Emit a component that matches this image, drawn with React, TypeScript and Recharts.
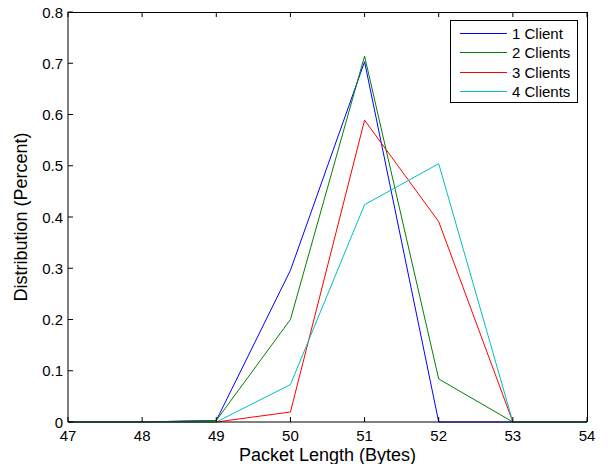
import React from "react";
import { LineChart, Line, XAxis, YAxis, Legend } from "recharts";

// Packet length distribution per number of clients
const packetLengths = [47, 48, 49, 50, 51, 52, 53, 54];
const oneClient = [0, 0, 0.003, 0.296, 0.703, 0, 0, 0];
const twoClients = [0, 0, 0.003, 0.2, 0.714, 0.084, 0, 0];
const threeClients = [0, 0, 0, 0.0195, 0.589, 0.391, 0, 0];
const fourClients = [0, 0, 0, 0.073, 0.424, 0.504, 0, 0];

const xTicks = [47, 48, 49, 50, 51, 52, 53, 54];
const yTicks = [0, 0.1, 0.2, 0.3, 0.4, 0.5, 0.6, 0.7, 0.8];
const xMin = 47;
const xMax = 54;
const yMin = 0;
const yMax = 0.8;

const seriesNames = ["1 Client", "2 Clients", "3 Clients", "4 Clients"];
const seriesColors = ["#0000ff", "#008000", "#ff0000", "#00bfbf"];

const data = packetLengths.map((x, i) => ({
  x,
  s1: oneClient[i],
  s2: twoClients[i],
  s3: threeClients[i],
  s4: fourClients[i],
}));

// chart layout
const CHART_W = 608;
const CHART_H = 464;
const MARGIN = { top: 11, right: 20, left: 0, bottom: 0 };
const X_AXIS_H = 42;
const TOP_AXIS_H = 1;
const Y_AXIS_W = 68;
const RIGHT_AXIS_W = 1;
const PLOT_LEFT = MARGIN.left + Y_AXIS_W;
const PLOT_TOP = MARGIN.top + TOP_AXIS_H;
const PLOT_W = CHART_W - MARGIN.left - MARGIN.right - Y_AXIS_W - RIGHT_AXIS_W;
const PLOT_H = CHART_H - MARGIN.top - MARGIN.bottom - X_AXIS_H - TOP_AXIS_H;

const FONT = "'Liberation Sans', Arial, Helvetica, sans-serif";
const TICK_LEN = 5;

const BottomTick = (props: any) => {
  const { x, y, payload } = props;
  return (
    <g>
      <line x1={x} y1={y} x2={x} y2={y - TICK_LEN} stroke="#000" strokeWidth={1} />
      <text x={x} y={y + 19} textAnchor="middle" fontSize={15} fontFamily={FONT} fill="#000">
        {payload.value}
      </text>
    </g>
  );
};

const TopTick = (props: any) => {
  const { x, y } = props;
  return <line x1={x} y1={y} x2={x} y2={y + TICK_LEN} stroke="#000" strokeWidth={1} />;
};

const LeftTick = (props: any) => {
  const { x, y, payload } = props;
  return (
    <g>
      <line x1={x} y1={y} x2={x + TICK_LEN} y2={y} stroke="#000" strokeWidth={1} />
      <text x={x - 5} y={y + 5.5} textAnchor="end" fontSize={15} fontFamily={FONT} fill="#000">
        {payload.value}
      </text>
    </g>
  );
};

const RightTick = (props: any) => {
  const { x, y } = props;
  return <line x1={x} y1={y} x2={x - TICK_LEN} y2={y} stroke="#000" strokeWidth={1} />;
};

const rowTops = [3, 22, 42, 61];

const LegendBox = (props: any) => {
  const { payload } = props;
  const items = (payload || []).filter((e: any) => seriesNames.indexOf(e.value) >= 0);
  return (
    <div
      style={{
        width: 126,
        height: 81,
        border: "1px solid #000",
        background: "#fff",
        position: "relative",
        fontFamily: FONT,
        fontSize: 15,
        color: "#000",
      }}
    >
      {items.map((entry: any, i: number) => {
        const color = seriesColors[seriesNames.indexOf(entry.value)] || entry.color;
        return (
          <div
            key={entry.value}
            style={{
              position: "absolute",
              left: 0,
              top: rowTops[i],
              height: 19,
              display: "flex",
              alignItems: "center",
              whiteSpace: "nowrap",
            }}
          >
            <svg width={60} height={19} style={{ display: "block" }}>
              <line x1={9} y1={9.5} x2={56} y2={9.5} stroke={color} strokeWidth={1} />
            </svg>
            <span style={{ marginLeft: 1, lineHeight: "19px" }}>{entry.value}</span>
          </div>
        );
      })}
    </div>
  );
};

export default function App() {
  return (
    <div
      style={{
        position: "absolute",
        left: 0,
        top: 0,
        width: CHART_W,
        height: CHART_H,
        background: "#fff",
      }}
    >
      <LineChart width={CHART_W} height={CHART_H} data={data} margin={MARGIN}>
        <XAxis
          dataKey="x"
          type="number"
          domain={[xMin, xMax]}
          ticks={xTicks}
          height={X_AXIS_H}
          tickSize={0}
          tickMargin={0}
          tick={<BottomTick />}
          tickLine={false}
          axisLine={{ stroke: "#000", strokeWidth: 1 }}
          label={{
            value: "Packet Length (Bytes)",
            position: "insideBottom",
            offset: 3,
            fontSize: 18,
            fontFamily: FONT,
            fill: "#000",
          }}
        />
        <XAxis
          xAxisId="top"
          orientation="top"
          dataKey="x"
          type="number"
          domain={[xMin, xMax]}
          ticks={xTicks}
          height={TOP_AXIS_H}
          tickSize={0}
          tickMargin={0}
          tick={<TopTick />}
          tickLine={false}
          axisLine={false}
        />
        <YAxis
          type="number"
          domain={[yMin, yMax]}
          ticks={yTicks}
          width={Y_AXIS_W}
          tickSize={0}
          tickMargin={0}
          tick={<LeftTick />}
          tickLine={false}
          axisLine={{ stroke: "#000", strokeWidth: 1 }}
          label={{
            value: "Distribution (Percent)",
            angle: -90,
            position: "insideLeft",
            offset: 21,
            fontSize: 18,
            fontFamily: FONT,
            fill: "#000",
            style: { textAnchor: "middle" },
          }}
        />
        <YAxis
          yAxisId="right"
          orientation="right"
          type="number"
          domain={[yMin, yMax]}
          ticks={yTicks}
          width={RIGHT_AXIS_W}
          tickSize={0}
          tickMargin={0}
          tick={<RightTick />}
          tickLine={false}
          axisLine={false}
        />
        <Legend
          layout="vertical"
          align="center"
          verticalAlign="middle"
          content={<LegendBox />}
          wrapperStyle={{ position: "absolute", left: 450, top: 20, width: 128, height: 83 }}
        />
        {["s1", "s2", "s3", "s4"].map((key, i) => (
          <Line
            key={key}
            dataKey={key}
            name={seriesNames[i]}
            stroke={seriesColors[i]}
            strokeWidth={1}
            type="linear"
            dot={false}
            activeDot={false}
            isAnimationActive={false}
            legendType="line"
          />
        ))}
      </LineChart>
      {/* top and right edges of the axes box */}
      <div
        style={{
          position: "absolute",
          left: PLOT_LEFT,
          top: PLOT_TOP,
          width: PLOT_W + 1,
          height: PLOT_H,
          boxSizing: "border-box",
          borderTop: "1px solid #000",
          borderRight: "1px solid #000",
          pointerEvents: "none",
        }}
      />
    </div>
  );
}
